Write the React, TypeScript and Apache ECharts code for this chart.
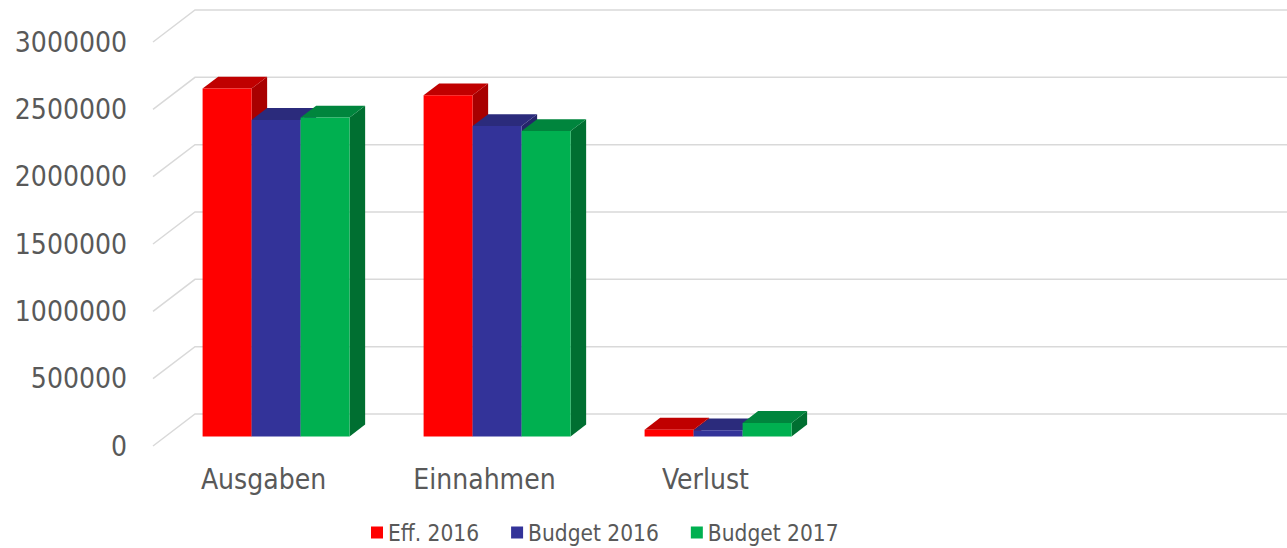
import React, { useEffect, useRef } from "react";
import * as echarts from "echarts";

const categories = ["Ausgaben", "Einnahmen", "Verlust", "", ""];
const seriesNames = ["Eff. 2016", "Budget 2016", "Budget 2017"];
const eff2016 = [2583000, 2533000, 50000];
const budget2016 = [2350000, 2305000, 45000];
const budget2017 = [2368000, 2268000, 100000];
const yTicks = [0, 500000, 1000000, 1500000, 2000000, 2500000, 3000000];

const frontColors = ["#FF0000", "#333399", "#00B050"];
const topColors = ["#C00000", "#2B2B7C", "#00853D"];
const sideColors = ["#A80000", "#25256A", "#006F31"];

const FONT = "'DejaVu Sans Condensed', 'DejaVu Sans', sans-serif";
const WALL_DX = 42;
const WALL_DY = 32;
const BAR_T = 0.3; // depth position of bar front face
const BAR_DEPTH = 0.37; // bar depth as fraction of wall depth
const BAR_FRAC = 49 / 221; // bar width as fraction of category band

export default function App() {
  const ref = useRef<HTMLDivElement>(null);
  useEffect(() => {
    if (!ref.current) return;
    const chart = echarts.init(ref.current, undefined, { renderer: "svg" });
    const allValues = [eff2016, budget2016, budget2017];

    const barSeries = allValues.map((vals, si) => ({
      type: "custom",
      name: seriesNames[si],
      itemStyle: { color: frontColors[si] },
      encode: { x: 0, y: 1 },
      data: vals.map((v, ci) => [ci, v]),
      renderItem: (params: any, api: any) => {
        const ci = api.value(0);
        const v = api.value(1);
        const base = api.coord([ci, 0]);
        const topPt = api.coord([ci, v]);
        const band = api.size([1, 0])[0];
        const bw = band * BAR_FRAC;
        const ox = WALL_DX * BAR_T;
        const oy = WALL_DY * BAR_T;
        const x0 = base[0] - 1.5 * bw + si * bw + ox;
        const bottom = base[1] - oy;
        const top = topPt[1] - oy;
        const ddx = WALL_DX * BAR_DEPTH;
        const ddy = WALL_DY * BAR_DEPTH;
        return {
          type: "group",
          children: [
            {
              type: "polygon",
              shape: {
                points: [
                  [x0 + bw, top],
                  [x0 + bw + ddx, top - ddy],
                  [x0 + bw + ddx, bottom - ddy],
                  [x0 + bw, bottom],
                ],
              },
              style: { fill: sideColors[si] },
            },
            {
              type: "polygon",
              shape: {
                points: [
                  [x0, top],
                  [x0 + bw, top],
                  [x0 + bw + ddx, top - ddy],
                  [x0 + ddx, top - ddy],
                ],
              },
              style: { fill: topColors[si] },
            },
            {
              type: "rect",
              shape: { x: x0, y: top, width: bw, height: bottom - top },
              style: { fill: frontColors[si] },
            },
          ],
        };
      },
    }));

    const gridSeries = {
      type: "custom",
      name: "grid",
      silent: true,
      z: 1,
      encode: { x: 0, y: 1 },
      data: yTicks.map((t) => [0, t]),
      renderItem: (params: any, api: any) => {
        const cs = params.coordSys;
        const y = api.coord([0, api.value(1)])[1];
        return {
          type: "polyline",
          shape: {
            points: [
              [cs.x, y],
              [cs.x + WALL_DX, y - WALL_DY],
              [cs.x + cs.width + WALL_DX + 10, y - WALL_DY],
            ],
          },
          style: { stroke: "#D9D9D9", lineWidth: 1.5, fill: "none" },
        };
      },
    };

    chart.setOption({
      animation: false,
      backgroundColor: "#FFFFFF",
      textStyle: { fontFamily: FONT },
      grid: { left: 153, right: 29, top: 42, bottom: 102 },
      legend: {
        data: seriesNames,
        left: 366,
        top: 516,
        icon: "rect",
        itemWidth: 12,
        itemHeight: 12,
        itemGap: 32,
        textStyle: { color: "#595959", fontSize: 22.5, fontFamily: FONT },
      },
      xAxis: {
        type: "category",
        data: categories,
        axisLine: { show: false },
        axisTick: { show: false },
        splitLine: { show: false },
        axisLabel: { color: "#595959", fontSize: 28, margin: 19, fontFamily: FONT },
      },
      yAxis: {
        type: "value",
        min: 0,
        max: 3000000,
        interval: 500000,
        axisLine: { show: false },
        axisTick: { show: false },
        splitLine: { show: false },
        axisLabel: {
          color: "#595959",
          fontSize: 28,
          margin: 26,
          fontFamily: FONT,
          formatter: (v: number) => String(v),
        },
      },
      series: [gridSeries, ...barSeries],
    });
    return () => chart.dispose();
  }, []);
  return (
    <div
      ref={ref}
      style={{ position: "fixed", left: 0, top: 0, width: 1287, height: 548 }}
    />
  );
}
